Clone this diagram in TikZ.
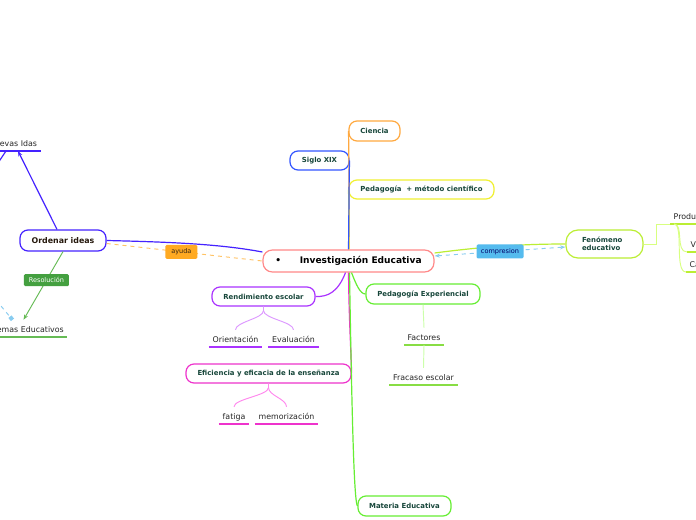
\documentclass[tikz,border=0pt]{standalone}
\usepackage{fontspec}
\setmainfont{DejaVu Sans}
\usetikzlibrary{arrows.meta,calc}
\definecolor{ntext}{HTML}{17463A}
\definecolor{cOrange}{HTML}{FFA940}
\definecolor{cBlue}{HTML}{3355FF}
\definecolor{cYellow}{HTML}{F0F030}
\definecolor{cPurple}{HTML}{AA33FF}
\definecolor{cGreen}{HTML}{66EE33}
\definecolor{cMagenta}{HTML}{EE33CC}
\definecolor{cLime}{HTML}{BBEE33}
\definecolor{cIndigo}{HTML}{4422FF}
\definecolor{cRed}{HTML}{FF8888}
\definecolor{lPurple}{HTML}{DD99FF}
\definecolor{lMagenta}{HTML}{FF88EE}
\definecolor{lGreen}{HTML}{CCFFAA}
\definecolor{lLime}{HTML}{D8FF80}
\definecolor{uGreen}{HTML}{88DD44}
\definecolor{rGreen}{HTML}{66BB55}
\definecolor{chipOrange}{HTML}{FFAA22}
\definecolor{chipBlue}{HTML}{55BBEE}
\definecolor{chipGreen}{HTML}{44A040}
\definecolor{dBlue}{HTML}{88CCF0}
\newcommand\fnode{\fontsize{5.2pt}{6.2pt}\selectfont\bfseries}
\newcommand\freg{\fontsize{5.9pt}{7pt}\selectfont}
\newcommand\fchip{\fontsize{4.9pt}{6pt}\selectfont}
\tikzset{
  box/.style={draw=#1, fill=white, rounded corners=6pt, line width=0.9pt,
    inner xsep=2pt, inner ysep=1pt, text=ntext, font=\fnode, minimum height=15pt},
  chip/.style={fill=#1, rounded corners=1pt, inner sep=1pt, font=\fchip, minimum height=10.5pt},
  ul/.style={inner xsep=2.6pt, inner ysep=1.5pt, text height=8pt, text depth=1.5pt,
    anchor=south, font=\freg, text=black!85},
  uline/.style={line width=1.5pt, draw=#1},
  conn/.style={line width=0.9pt, draw=#1},
  sub/.style={line width=0.7pt, draw=#1},
}
\begin{document}
\begin{tikzpicture}[x=0.75pt,y=-0.75pt]
\useasboundingbox (0,0) rectangle (696,520);
\clip (0,0) rectangle (696,520);
\fill[white] (0,0) rectangle (696,520);

% main nodes
\node[box=cRed, minimum width=128.25pt, minimum height=16.5pt, rounded corners=7pt, text=black,
  font=\fontsize{6.8pt}{8pt}\selectfont\bfseries] (c) at (348.5,261) {\textbullet\hspace{14pt}Investigación Educativa};
\node[box=cOrange, minimum width=38.25pt] (cie) at (374.5,131) {Ciencia};
\node[box=cBlue, minimum width=44.25pt, minimum height=14.25pt] (sig) at (319.5,160.5) {Siglo XIX};
\node[box=cYellow, minimum width=108.75pt, minimum height=14.25pt] (ped) at (421.5,189.5) {Pedagogía\ \ + método científico};
\node[box=cPurple, minimum width=77.25pt, minimum height=14.25pt] (ren) at (263.5,296.5) {Rendimiento escolar};
\node[box=cGreen, minimum width=85.5pt] (pex) at (423,294) {Pedagogía Experiencial};
\node[box=cMagenta, minimum width=123.75pt, minimum height=14.25pt] (efi) at (268.5,373.5) {Eficiencia y eficacia de la enseñanza};
\node[box=cGreen, minimum width=69.75pt] (mat) at (404.5,506) {Materia Educativa};
\node[box=cLime, minimum height=21pt, rounded corners=9pt, inner xsep=12pt, text width=33.75pt, align=left,
  font=\fontsize{5.2pt}{6pt}\selectfont\bfseries] (fen) at (604.5,244) {Fenómeno\\educativo};
\node[box=cIndigo, minimum width=64.5pt, minimum height=15.75pt, text=black!80!brown,
  font=\fontsize{5.9pt}{7pt}\selectfont\bfseries] (ord) at (63,240.5) {Ordenar ideas};

% underlined text nodes
\node[ul] (nue) at (13,151) {Nuevas Idas};
\draw[uline=cIndigo] (nue.south west) -- (nue.south east);
\node[ul] (pro) at (20.5,337) {Problemas Educativos};
\draw[uline=rGreen] (pro.south west) -- (pro.south east);
\node[ul] (ori) at (235.5,347) {Orientación};
\draw[uline=cPurple] (ori.south west) -- (ori.south east);
\node[ul] (eva) at (293.5,347) {Evaluación};
\draw[uline=cPurple] (eva.south west) -- (eva.south east);
\node[ul] (fat) at (234,424) {fatiga};
\draw[uline=cMagenta] (fat.south west) -- (fat.south east);
\node[ul] (mem) at (286.5,424) {memorización};
\draw[uline=cMagenta] (mem.south west) -- (mem.south east);
\node[ul] (fac) at (424,345) {Factores};
\draw[uline=uGreen] (fac.south west) -- (fac.south east);
\node[ul] (fra) at (423.5,385) {Fracaso escolar};
\draw[uline=uGreen] (fra.south west) -- (fra.south east);
\node[ul, anchor=south west] (prd) at (670,224) {Productos};
\draw[uline=cLime] (prd.south west) -- (prd.south east);
\node[ul, anchor=south west] (vv) at (687,252) {Variables};
\draw[uline=cLime] (vv.south west) -- (vv.south east);
\node[ul, anchor=south west] (cc) at (686,272) {Causas};
\draw[uline=cLime] (cc.south west) -- (cc.south east);

% connectors from central node
\draw[conn=cOrange] ($(c.north)+(0.5,0)$) .. controls (349,200) and (349,140) .. (cie.west);
\draw[conn=cYellow] ($(c.north)+(0.5,0)$) .. controls (349,220) and (349,200) .. (ped.west);
\draw[conn=cBlue] ($(c.north)+(0,0)$) .. controls (349,210) and (349,175) .. (sig.east);
\draw[conn=cPurple] ($(c.south)+(-3,0)$) .. controls (338,292) and (328,297) .. (ren.east);
\draw[conn=cGreen] ($(c.south)+(3,0)$) .. controls (356,284) and (360,294) .. (pex.west);
\draw[conn=cMagenta] ($(c.south)+(0,0)$) .. controls (349,320) and (351,350) .. (efi.east);
\draw[conn=cGreen] ($(c.south)+(1,0)$) .. controls (352,420) and (354,500) .. (mat.west);
\draw[conn=cLime] ($(c.east)+(0,-8)$) .. controls (480,247) and (520,244) .. (fen.west);
\draw[conn=cIndigo] (ord.east) .. controls (170,242) and (220,244) .. ($(c.west)+(0,-9)$);

% ayuda
\draw[conn=chipOrange!70, dashed, line width=0.7pt] ($(ord.east)+(0,3)$) -- (c.west)
  node[chip=chipOrange, pos=0.48, minimum width=24pt, text=black!70!brown] (ayu) {ayuda};
% compresion
\draw[dBlue, dashed, line width=0.7pt, {Stealth[length=4pt,open]}-{Stealth[length=4pt,open]}]
  ($(c.east)+(0,-5)$) -- ($(fen.west)+(0,3)$)
  node[chip=chipBlue, pos=0.5, minimum width=35.25pt, text=blue!40!black] (cmp) {compresion};

% ordenar ideas branches
\draw[conn=cIndigo, -{Stealth[length=4pt]}] ($(ord.north)+(-6,0)$) -- ($(nue.south)+(5,0)$);
\coordinate (offl) at (-2,163);
\draw[conn=cIndigo] (offl) -- ($(nue.south)+(-7,0)$);
\draw[conn=rGreen, line width=0.7pt, -{Stealth[length=4pt]}] ($(ord.south)+(0,0)$) -- ($(pro.north)+(3,0)$)
  node[chip=chipGreen, pos=0.42, minimum width=33.75pt, minimum height=9pt, text=white] (res) {Resolución};
\coordinate (offb) at (-4,300);
\draw[dBlue, dashed, line width=0.7pt, -{Square[length=3pt,width=3pt]}] (offb) -- ($(pro.north)+(-8,0)$);

% sub branches
\draw[sub=lPurple] (ren.south) -- ++(0,4) .. controls ++(0,8) and ($(ori.north)+(0,-8)$) .. (ori.north);
\draw[sub=lPurple] (ren.south) -- ++(0,4) .. controls ++(0,8) and ($(eva.north)+(0,-8)$) .. (eva.north);
\draw[sub=lMagenta] (efi.south) -- ++(0,4) .. controls ++(0,8) and ($(fat.north)+(0,-8)$) .. (fat.north);
\draw[sub=lMagenta] (efi.south) -- ++(0,4) .. controls ++(0,8) and ($(mem.north)+(0,-8)$) .. (mem.north);
\draw[sub=lGreen] (pex.south) -- (fac.north);
\draw[sub=lGreen] (fac.south) -- (fra.north);
\draw[sub=lLime] (fen.east) -- ++(13,0) |- (prd.south west);
\draw[sub=lLime] ($(prd.south west)+(4,0)$) .. controls ++(10,0) and ($(vv.south west)+(-12,0)$) .. (vv.south west);
\draw[sub=lLime] ($(prd.south west)+(4,0)$) .. controls ++(10,0) and ($(cc.south west)+(-12,0)$) .. (cc.south west);
\end{tikzpicture}
\end{document}
